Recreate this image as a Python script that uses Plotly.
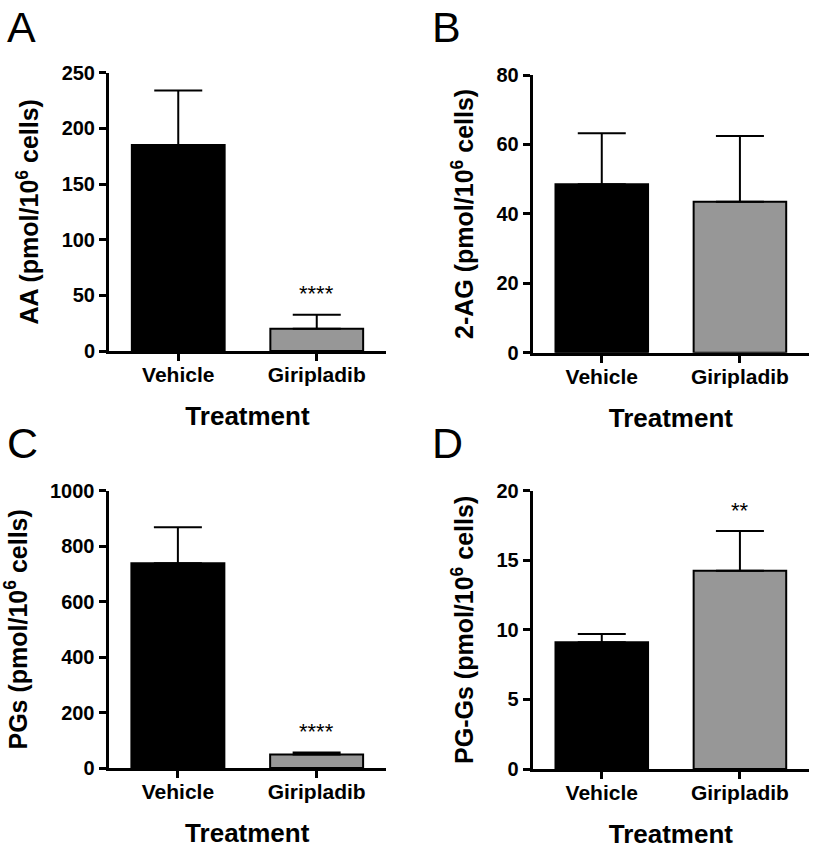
import plotly.graph_objects as go

W, H = 813, 851

categories = ["Vehicle", "Giripladib"]

# Panel A: AA
aa_mean = [185, 20]
aa_sem = [49, 12.5]
# Panel B: 2-AG
ag_mean = [48.5, 43.5]
ag_sem = [14.7, 18.9]
# Panel C: PGs
pg_mean = [738, 49]
pg_sem = [130, 7]
# Panel D: PG-Gs
pgg_mean = [9.1, 14.25]
pgg_sem = [0.6, 2.85]

sig_marks = ["****", "", "****", "**"]  # significance markers over Giripladib

y_titles = [
    "AA (pmol/10<sup>6</sup> cells)",
    "2-AG (pmol/10<sup>6</sup> cells)",
    "PGs (pmol/10<sup>6</sup> cells)",
    "PG-Gs (pmol/10<sup>6</sup> cells)",
]
y_ranges = [[0, 250], [0, 80], [0, 1000], [0, 20]]
y_dticks = [50, 20, 200, 5]
panel_letters = ["A", "B", "C", "D"]

means = [aa_mean, ag_mean, pg_mean, pgg_mean]
sems = [aa_sem, ag_sem, pg_sem, pgg_sem]
bar_colors = ["#000000", "#979797"]

FONT = "Liberation Sans, Arial, Helvetica, sans-serif"

# pixel layout of plot areas (left, right, top, bottom)
px_boxes = [
    (109, 386, 72.7, 351),
    (532.7, 809, 75, 352.7),
    (108.5, 386, 490.7, 768),
    (532.7, 809, 490.7, 769),
]

fig = go.Figure()
annotations = []
layout = {}

for i in range(4):
    xa = "x" if i == 0 else f"x{i+1}"
    ya = "y" if i == 0 else f"y{i+1}"
    xkey = "xaxis" if i == 0 else f"xaxis{i+1}"
    ykey = "yaxis" if i == 0 else f"yaxis{i+1}"
    l, r, t, b = px_boxes[i]
    fig.add_trace(go.Bar(
        x=categories, y=means[i],
        marker=dict(color=bar_colors, line=dict(color="black", width=2)),
        width=0.67,
        error_y=dict(type="data", symmetric=False, array=sems[i],
                     arrayminus=[0, 0], color="black", thickness=2, width=24),
        xaxis=xa, yaxis=ya, showlegend=False,
    ))
    layout[xkey] = dict(
        domain=[l / W, r / W], anchor=ya,
        range=[-0.5, 1.5], showgrid=False, zeroline=False,
        showline=True, linecolor="black", linewidth=3,
        ticks="outside", ticklen=7, tickwidth=3, tickcolor="black",
        ticklabelstandoff=-4,
        tickfont=dict(family=FONT, size=21, color="black", weight="bold"),
        title=dict(text="Treatment", standoff=22,
                   font=dict(family=FONT, size=26, color="black", weight="bold")),
        automargin=False, fixedrange=True,
    )
    layout[ykey] = dict(
        domain=[1 - b / H, 1 - t / H], anchor=xa,
        range=y_ranges[i], dtick=y_dticks[i], tick0=0,
        showgrid=False, zeroline=False,
        showline=True, linecolor="black", linewidth=3,
        ticks="outside", ticklen=7, tickwidth=3, tickcolor="black",
        tickfont=dict(family=FONT, size=20, color="black", weight="bold"),
        title=dict(text=y_titles[i], standoff=16,
                   font=dict(family=FONT, size=25, color="black", weight="bold")),
        automargin=False, fixedrange=True,
    )
    if sig_marks[i]:
        annotations.append(dict(
            x=categories[1], y=means[i][1] + sems[i][1], xref=xa, yref=ya,
            text=sig_marks[i], showarrow=False, yanchor="middle", yshift=21,
            font=dict(family=FONT, size=22, color="black"),
        ))

letter_pos = [(5, 27), (430, 27), (5, 443), (430, 443)]
for i, (lx, ly) in enumerate(letter_pos):
    annotations.append(dict(
        x=lx / W, y=1 - ly / H, xref="paper", yref="paper",
        text=panel_letters[i], showarrow=False, xanchor="left", yanchor="middle",
        font=dict(family=FONT, size=43, color="black"),
    ))

fig.update_layout(
    width=W, height=H,
    margin=dict(l=0, r=0, t=0, b=0),
    paper_bgcolor="white", plot_bgcolor="white",
    annotations=annotations,
    bargap=0.33,
    **layout,
)

fig.write_html("out.html", config={"displayModeBar": False},
               post_script="document.body.style.margin='0';")
